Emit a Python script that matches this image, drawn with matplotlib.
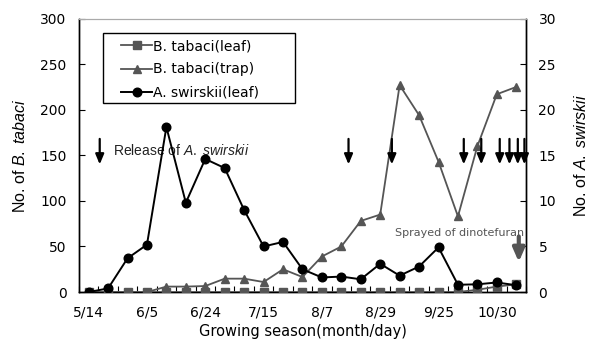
"""Whitefly / predatory mite seasonal counts, dual y-axis line chart"""

import numpy as np
import matplotlib
matplotlib.use("Agg")
import matplotlib.pyplot as plt
from matplotlib.patches import Rectangle

plt.rcParams['font.family'] = ['DejaVu Sans']
plt.rcParams['mathtext.fontset'] = 'custom'
plt.rcParams['mathtext.rm'] = 'Liberation Sans'
plt.rcParams['mathtext.it'] = 'Liberation Sans:italic'

# ---- data (23 survey dates, every third one labelled) ----
tick_labels = ["5/14", "6/5", "6/24", "7/15", "8/7", "8/29", "9/25", "10/30"]
tick_every = 3

btabaci_leaf = [0, 0, 0, 0, 0, 0, 0, 0, 0, 0, 0, 0, 0, 0, 0, 0, 0, 0, 0, 0,
                2.5, 6, 8.5]
btabaci_trap = [0, 0, 0, 0, 6, 6, 6.6, 14.7, 14.7, 11, 25, 16.5, 39, 50,
                78, 85, 227, 194, 143, 83, 160, 217, 225]
aswirskii_leaf = [0, 0.4, 3.7, 5.2, 18.1, 9.8, 14.6, 13.6, 9.0, 5.0, 5.5,
                  2.5, 1.6, 1.7, 1.4, 3.1, 1.8, 2.8, 4.9, 0.8, 0.85, 1.05, 0.75]

# release events of A. swirskii (position on the survey axis)
release_pos = [0.57, 13.37, 15.6, 19.3, 20.2, 21.15, 21.65, 22.08, 22.42]
spray_pos = 22.13

x = np.arange(len(btabaci_trap))
gray = '#555555'
arial = 'Liberation Sans'

fig = plt.figure(figsize=(5.89, 3.44), dpi=100)
ax = fig.add_axes([0.134, 0.151, 0.759, 0.795])
ax2 = ax.twinx()
ax.set_zorder(ax2.get_zorder() + 1)
ax.patch.set_visible(False)

l2, = ax.plot(x, btabaci_trap, color=gray, lw=1.3, marker='^', ms=6,
              mec=gray, mfc=gray, zorder=2, label='B. tabaci(trap)')
l1, = ax.plot(x, btabaci_leaf, color=gray, lw=1.3, marker='s', ms=6,
              mec=gray, mfc=gray, zorder=3, label='B. tabaci(leaf)')
# A. swirskii plotted on left scale (x10) so it sits above the gray series
l3, = ax.plot(x, np.array(aswirskii_leaf) * 10, color='black', lw=1.4,
              marker='o', ms=6.2, zorder=4, label='A. swirskii(leaf)')

ax.set_xlim(-0.5, len(x) - 0.5)
ax.set_ylim(0, 300)
ax2.set_ylim(0, 30)
ax.set_yticks(np.arange(0, 301, 50))
ax2.set_yticks(np.arange(0, 31, 5))

ax.set_xticks(x[::tick_every])
ax.set_xticklabels(tick_labels)
ax.set_xticks(np.arange(-0.5, len(x), 1), minor=True)
ax.tick_params(axis='x', which='major', length=0, pad=10, labelsize=10)
ax.tick_params(axis='x', which='minor', direction='in', length=4, width=0.8)
ax.tick_params(axis='y', direction='in', length=4, labelsize=10, pad=9)
ax2.tick_params(axis='y', direction='in', length=4, labelsize=10, pad=9)
ax2.tick_params(axis='x', length=0)

for a in (ax, ax2):
    a.spines['top'].set_color('#aaaaaa')
    a.spines['left'].set_linewidth(1.0)
    a.spines['right'].set_linewidth(1.0)
    a.spines['bottom'].set_linewidth(1.0)

ax.set_ylabel(r'No. of $\it{B.\ tabaci}$', fontsize=11.5, family=arial,
              labelpad=9)
ax2.set_ylabel(r'No. of $\it{A.\ swirskii}$', fontsize=11.5, family=arial,
               labelpad=12)
ax.set_xlabel('Growing season(month/day)', fontsize=10.5, labelpad=3)

# release arrows
for p in release_pos:
    ax.annotate('', xy=(p, 140), xytext=(p, 168),
                arrowprops=dict(arrowstyle='-|>,head_width=0.25,head_length=0.6',
                                color='black', lw=1.6, shrinkA=0, shrinkB=0),
                zorder=5)
ax.text(1.25, 155, r'Release of $\it{A.\ swirskii}$', fontsize=10,
        family=arial, va='center', ha='left', color='#222222')

# spray arrow
ax.annotate('', xy=(spray_pos, 33), xytext=(spray_pos, 61),
            arrowprops=dict(arrowstyle='-|>,head_width=0.35,head_length=0.8',
                            color=gray, lw=3, shrinkA=0, shrinkB=0),
            zorder=5)
ax.text(22.38, 64.5, 'Sprayed of dinotefuran', fontsize=8, va='center',
        ha='right', color=gray)

# legend: Excel style box wider than its entries
ax.add_patch(Rectangle((0.054, 0.69), 0.43, 0.258, transform=ax.transAxes,
                       facecolor='white', edgecolor='black', lw=1.0,
                       zorder=6))
leg = ax.legend(handles=[l1, l2, l3], loc='upper left',
                bbox_to_anchor=(0.095, 0.924), fontsize=10, frameon=False,
                handlelength=2.2, borderpad=0, labelspacing=0.65,
                handletextpad=0.1, borderaxespad=0)
leg.set_zorder(7)

fig.savefig('out.png', dpi=100)
